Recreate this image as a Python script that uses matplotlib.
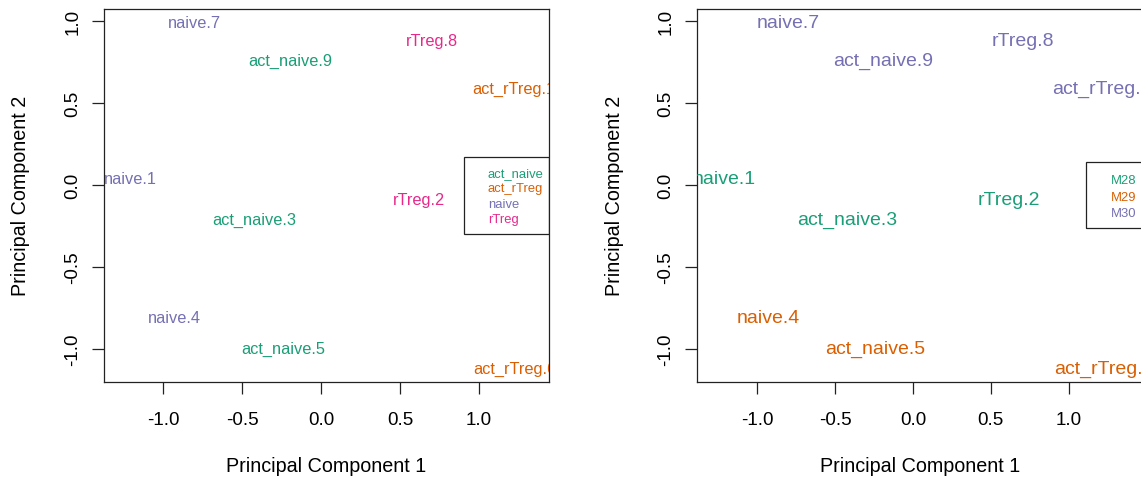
import matplotlib
matplotlib.use("Agg")
import matplotlib.pyplot as plt
from matplotlib.patches import Rectangle

plt.rcParams['font.family'] = ['Liberation Sans', 'DejaVu Sans']

# PCA scores
samples = ['naive.1', 'rTreg.2', 'act_naive.3', 'naive.4', 'act_naive.5',
           'act_rTreg.6', 'naive.7', 'rTreg.8', 'act_naive.9', 'act_rTreg.10']
pc1 = [-1.21, 0.618, -0.42, -0.927, -0.242, 1.225, -0.80, 0.705, -0.194, 1.25]
pc2 = [0.043, -0.085, -0.207, -0.807, -0.996, -1.116, 0.99, 0.884, 0.758, 0.59]
cell_type = ['naive', 'rTreg', 'act_naive', 'naive', 'act_naive',
             'act_rTreg', 'naive', 'rTreg', 'act_naive', 'act_rTreg']
mouse = ['M28', 'M28', 'M28', 'M29', 'M29', 'M29', 'M30', 'M30', 'M30', 'M30']

type_levels = ['act_naive', 'act_rTreg', 'naive', 'rTreg']
mouse_levels = ['M28', 'M29', 'M30']
ticks = [-1.0, -0.5, 0.0, 0.5, 1.0]

dark2 = ['#1B9E77', '#D95F02', '#7570B3', '#E7298A']

W, H = 1141, 481
fig = plt.figure(figsize=(W / 100, H / 100), dpi=100)


def px_axes(x0, x1, y0, y1):
    return fig.add_axes([x0 / W, 1 - y1 / H, (x1 - x0) / W, (y1 - y0) / H])


def style(ax, xlim):
    ax.set_xlim(*xlim)
    ax.set_ylim(-1.20, 1.076)
    ax.set_xticks(ticks)
    ax.set_yticks(ticks)
    ax.set_xticklabels(['%.1f' % t for t in ticks])
    ax.set_yticklabels(['%.1f' % t for t in ticks], rotation=90, va='center')
    ax.tick_params(axis='both', length=8.6, width=0.9, labelsize=13.6, color='#222222')
    ax.tick_params(axis='x', pad=12)
    ax.tick_params(axis='y', pad=7.5)
    for s in ax.spines.values():
        s.set_linewidth(0.9)
        s.set_color('#222222')


def legend_box(ax, x0, y0, y1, tx, ty, labels, colors):
    ax.add_patch(Rectangle((x0, y0), 1 - x0, y1 - y0, transform=ax.transAxes,
                           fill=False, lw=0.9, ec='#222222', zorder=5))
    for yy, lab, c in zip(ty, labels, colors):
        ax.text(tx, yy, lab, transform=ax.transAxes, color=c, fontsize=9.4,
                ha='left', va='center')


# left panel: coloured by cell type
ax1 = px_axes(103.5, 549, 9.5, 383)
style(ax1, (-1.377, 1.443))
for x, y, s, t in zip(pc1, pc2, samples, cell_type):
    ax1.text(x, y, s, color=dark2[type_levels.index(t)], fontsize=11.8,
             ha='center', va='center', clip_on=True)
legend_box(ax1, 0.809, 0.396, 0.602, 0.863,
           [0.5596, 0.5184, 0.4766, 0.4351], type_levels, dark2)
fig.text(326 / W, 1 - 467 / H, 'Principal Component 1', ha='center', va='center', fontsize=14.2)
fig.text(21 / W, 1 - 196 / H, 'Principal Component 2', ha='center', va='center',
         rotation=90, fontsize=14.2)

# right panel: coloured by mouse
ax2 = px_axes(696.7, 1143.4, 9.5, 383)
style(ax2, (-1.39, 1.48))
for x, y, s, m in zip(pc1, pc2, samples, mouse):
    ax2.text(x, y, s, color=dark2[mouse_levels.index(m)], fontsize=14,
             ha='center', va='center', clip_on=True)
legend_box(ax2, 0.8715, 0.412, 0.589, 0.927,
           [0.5408, 0.4953, 0.4525], mouse_levels, dark2[:3])
fig.text(920 / W, 1 - 467 / H, 'Principal Component 1', ha='center', va='center', fontsize=14.2)
fig.text(614 / W, 1 - 196 / H, 'Principal Component 2', ha='center', va='center',
         rotation=90, fontsize=14.2)

fig.savefig('out.png', dpi=100)
